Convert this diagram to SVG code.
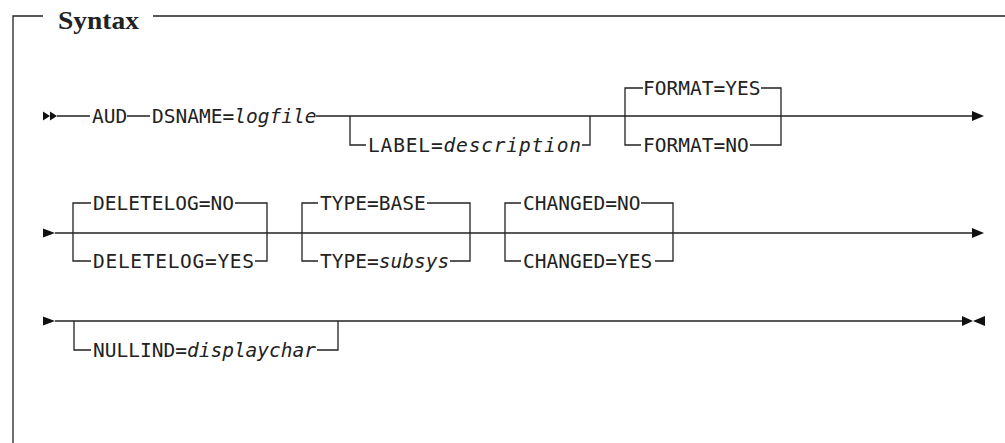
<svg xmlns="http://www.w3.org/2000/svg" width="1005" height="443" viewBox="0 0 1005 443">
<style>
.ln{fill:none;stroke:#222;stroke-width:1.3}
.ah{fill:#111;stroke:none}
.t{font-family:"DejaVu Sans Mono","Liberation Mono",monospace;font-size:19.5px;fill:#222}
.i{font-style:italic}
.title{font-family:"Liberation Serif","DejaVu Serif",serif;font-size:25px;font-weight:bold;fill:#222}
</style>
<rect width="1005" height="443" fill="#fff"/>
<g id="frame">
<path class="ln" d="M13,443 V16 H43 M153,16 H1005"/>
<text class="title" x="58" y="29" textLength="81" lengthAdjust="spacingAndGlyphs">Syntax</text>
</g>
<g id="connectors">
<!-- row 1 -->
<path class="ln" d="M57,116 H90 M127,116 H150 M316,116 H974"/>
<path class="ln" d="M350,116 V145 H366 M582,145 H590 V116"/>
<path class="ln" d="M643,88 H625 V145 H641 M761,88 H781 V145 H750"/>
<!-- row 2 -->
<path class="ln" d="M55,233 H974"/>
<path class="ln" d="M91,203 H73 V261 H91 M235,203 H267 V261 H255"/>
<path class="ln" d="M318,203 H302 V261 H318 M427,203 H470 V261 H450"/>
<path class="ln" d="M521,203 H505 V261 H521 M641,203 H673 V261 H655"/>
<!-- row 3 -->
<path class="ln" d="M55,321 H963"/>
<path class="ln" d="M74,321 V350 H91 M317,350 H338 V321"/>
</g>
<g id="arrows">
<polygon class="ah" points="43,111.5 50,116 43,120.5"/>
<polygon class="ah" points="50,111.5 57,116 50,120.5"/>
<polygon class="ah" points="972,111 984,116 972,121"/>
<polygon class="ah" points="43,228.5 55,233 43,237.5"/>
<polygon class="ah" points="972,228 984,233 972,238"/>
<polygon class="ah" points="43,316.5 55,321 43,325.5"/>
<polygon class="ah" points="962,316 973,321 962,326"/>
<polygon class="ah" points="985,316 973,321 985,326"/>
</g>
<g id="node-aud"><text class="t" x="92" y="123">AUD</text></g>
<g id="node-dsname"><text class="t" x="152" y="123">DSNAME=<tspan class="i">logfile</tspan></text></g>
<g id="node-label"><text class="t" x="368" y="152" textLength="213">LABEL=<tspan class="i">description</tspan></text></g>
<g id="node-format-yes"><text class="t" x="643" y="95">FORMAT=YES</text></g>
<g id="node-format-no"><text class="t" x="643" y="152">FORMAT=NO</text></g>
<g id="node-deletelog-no"><text class="t" x="93" y="210">DELETELOG=NO</text></g>
<g id="node-deletelog-yes"><text class="t" x="93" y="268" textLength="161">DELETELOG=YES</text></g>
<g id="node-type-base"><text class="t" x="320" y="210">TYPE=BASE</text></g>
<g id="node-type-subsys"><text class="t" x="320" y="268">TYPE=<tspan class="i">subsys</tspan></text></g>
<g id="node-changed-no"><text class="t" x="523" y="210">CHANGED=NO</text></g>
<g id="node-changed-yes"><text class="t" x="523" y="268">CHANGED=YES</text></g>
<g id="node-nullind"><text class="t" x="93" y="357">NULLIND=<tspan class="i">displaychar</tspan></text></g>
</svg>
